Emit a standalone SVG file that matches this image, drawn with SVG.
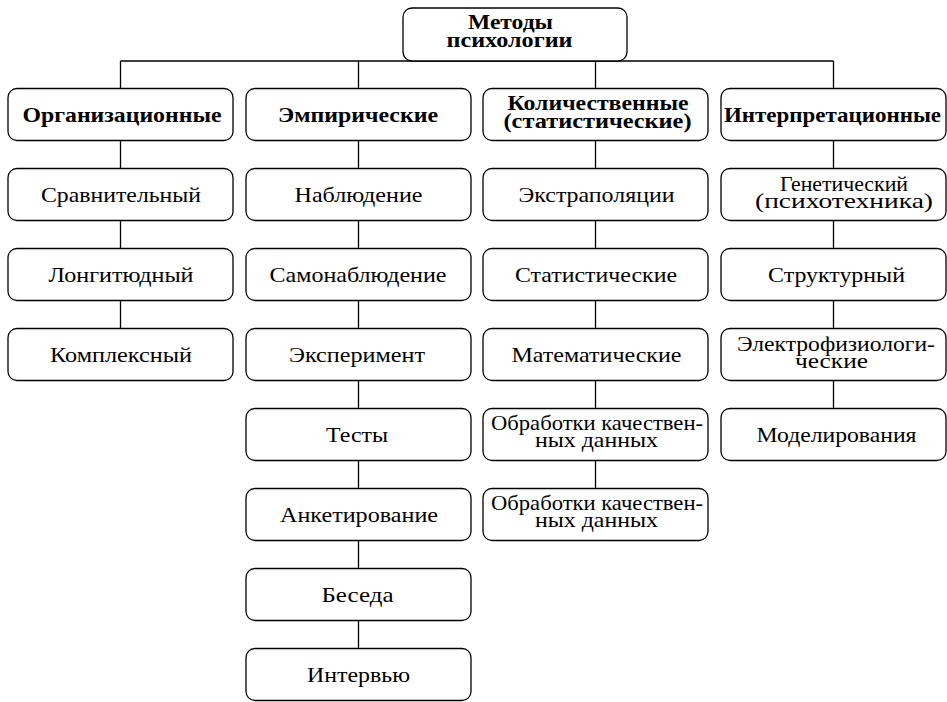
<svg xmlns="http://www.w3.org/2000/svg" width="947" height="702" viewBox="0 0 947 702">
<style>
.b{fill:#fff;stroke:#000;stroke-width:1.3}
.c{fill:none;stroke:#000;stroke-width:1.3}
text{font-family:"Liberation Serif","Times New Roman","DejaVu Serif",serif;font-size:21px;fill:#000;text-anchor:middle}
.h{font-weight:bold;font-size:21px}
</style>
<g id="connectors">
<path class="c" d="M120.5 61H833.5M120.5 61V88.5M358.5 61V88.5M595.5 61V88.5M833.5 61V88.5"/>
<path class="c" d="M120.5 140.5V168.5M120.5 220.5V248.5M120.5 300.5V328.5"/>
<path class="c" d="M358.5 140.5V648.5"/>
<path class="c" d="M595.5 140.5V488.5"/>
<path class="c" d="M833.5 140.5V408.5"/>
</g>
<g id="root"><rect class="b" x="403" y="8" width="224" height="53" rx="9"/><text class="h"><tspan x="510.5" y="29" textLength="85" lengthAdjust="spacingAndGlyphs">Методы</tspan><tspan x="509.5" y="47" textLength="126" lengthAdjust="spacingAndGlyphs">психологии</tspan></text></g>
<g id="org"><rect class="b" x="8" y="88.5" width="225" height="52" rx="9"/><text class="h" x="122" y="122" textLength="199" lengthAdjust="spacingAndGlyphs">Организационные</text></g>
<g id="emp"><rect class="b" x="246" y="88.5" width="225" height="52" rx="9"/><text class="h" x="358" y="122" textLength="160" lengthAdjust="spacingAndGlyphs">Эмпирические</text></g>
<g id="quant"><rect class="b" x="483" y="88.5" width="225" height="52" rx="9"/><text class="h"><tspan x="598" y="110" textLength="181" lengthAdjust="spacingAndGlyphs">Количественные</tspan><tspan x="597.5" y="128" textLength="188" lengthAdjust="spacingAndGlyphs">(статистические)</tspan></text></g>
<g id="interp"><rect class="b" x="721" y="88.5" width="225" height="52" rx="9"/><text class="h" x="832.5" y="122" textLength="217" lengthAdjust="spacingAndGlyphs">Интерпретационные</text></g>
<g id="org1"><rect class="b" x="8" y="168.5" width="225" height="52" rx="9"/><text x="121" y="202" textLength="160" lengthAdjust="spacingAndGlyphs">Сравнительный</text></g>
<g id="org2"><rect class="b" x="8" y="248.5" width="225" height="52" rx="9"/><text x="121" y="282" textLength="145" lengthAdjust="spacingAndGlyphs">Лонгитюдный</text></g>
<g id="org3"><rect class="b" x="8" y="328.5" width="225" height="52" rx="9"/><text x="121" y="362" textLength="142" lengthAdjust="spacingAndGlyphs">Комплексный</text></g>
<g id="emp1"><rect class="b" x="246" y="168.5" width="225" height="52" rx="9"/><text x="358.5" y="202" textLength="128" lengthAdjust="spacingAndGlyphs">Наблюдение</text></g>
<g id="emp2"><rect class="b" x="246" y="248.5" width="225" height="52" rx="9"/><text x="358" y="282" textLength="177" lengthAdjust="spacingAndGlyphs">Самонаблюдение</text></g>
<g id="emp3"><rect class="b" x="246" y="328.5" width="225" height="52" rx="9"/><text x="357" y="362" textLength="136" lengthAdjust="spacingAndGlyphs">Эксперимент</text></g>
<g id="emp4"><rect class="b" x="246" y="408.5" width="225" height="52" rx="9"/><text x="357" y="442" textLength="62" lengthAdjust="spacingAndGlyphs">Тесты</text></g>
<g id="emp5"><rect class="b" x="246" y="488.5" width="225" height="52" rx="9"/><text x="359" y="522" textLength="158" lengthAdjust="spacingAndGlyphs">Анкетирование</text></g>
<g id="emp6"><rect class="b" x="246" y="568.5" width="225" height="52" rx="9"/><text x="357.5" y="602" textLength="72" lengthAdjust="spacingAndGlyphs">Беседа</text></g>
<g id="emp7"><rect class="b" x="246" y="648.5" width="225" height="52" rx="9"/><text x="358.5" y="682" textLength="103" lengthAdjust="spacingAndGlyphs">Интервью</text></g>
<g id="quant1"><rect class="b" x="483" y="168.5" width="225" height="52" rx="9"/><text x="596.5" y="202" textLength="156" lengthAdjust="spacingAndGlyphs">Экстраполяции</text></g>
<g id="quant2"><rect class="b" x="483" y="248.5" width="225" height="52" rx="9"/><text x="596" y="282" textLength="162" lengthAdjust="spacingAndGlyphs">Статистические</text></g>
<g id="quant3"><rect class="b" x="483" y="328.5" width="225" height="52" rx="9"/><text x="596.5" y="362" textLength="170" lengthAdjust="spacingAndGlyphs">Математические</text></g>
<g id="quant4"><rect class="b" x="483" y="408.5" width="225" height="52" rx="9"/><text><tspan x="597" y="430" textLength="212" lengthAdjust="spacingAndGlyphs">Обработки качествен-</tspan><tspan x="596.5" y="447" textLength="123" lengthAdjust="spacingAndGlyphs">ных данных</tspan></text></g>
<g id="quant5"><rect class="b" x="483" y="488.5" width="225" height="52" rx="9"/><text><tspan x="597" y="510" textLength="212" lengthAdjust="spacingAndGlyphs">Обработки качествен-</tspan><tspan x="596.5" y="527" textLength="123" lengthAdjust="spacingAndGlyphs">ных данных</tspan></text></g>
<g id="interp1"><rect class="b" x="721" y="168.5" width="225" height="52" rx="9"/><text><tspan x="844" y="191" textLength="128" lengthAdjust="spacingAndGlyphs">Генетический</tspan><tspan x="844" y="208" textLength="178" lengthAdjust="spacingAndGlyphs">(психотехника)</tspan></text></g>
<g id="interp2"><rect class="b" x="721" y="248.5" width="225" height="52" rx="9"/><text x="836.5" y="282" textLength="137" lengthAdjust="spacingAndGlyphs">Структурный</text></g>
<g id="interp3"><rect class="b" x="721" y="328.5" width="225" height="52" rx="9"/><text><tspan x="836" y="351" textLength="198" lengthAdjust="spacingAndGlyphs">Электрофизиологи-</tspan><tspan x="831.5" y="368" textLength="73" lengthAdjust="spacingAndGlyphs">ческие</tspan></text></g>
<g id="interp4"><rect class="b" x="721" y="408.5" width="225" height="52" rx="9"/><text x="836.5" y="442" textLength="160" lengthAdjust="spacingAndGlyphs">Моделирования</text></g>
</svg>
